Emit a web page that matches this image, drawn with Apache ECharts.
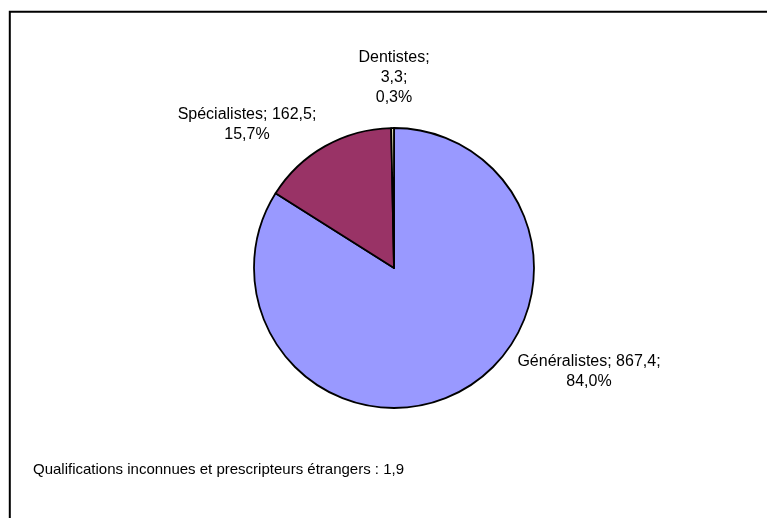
<!DOCTYPE html>
<html>
<head>
<meta charset="utf-8">
<script src="https://cdn.jsdelivr.net/npm/echarts@6/dist/echarts.min.js"></script>
<style>
html,body{margin:0;padding:0;background:#fff;}
#main{width:767px;height:518px;}
</style>
</head>
<body>
<div id="main"></div>
<script>
// Data
const categories = ['Généralistes', 'Spécialistes', 'Dentistes'];
const values = [867.4, 162.5, 3.3];
const sliceColors = ['#9999FF', '#993366', '#FFFFCC'];
const footnote = 'Qualifications inconnues et prescripteurs étrangers : 1,9';

// Label placement (layout only)
const labelBoxes = [
  { x: 589, y: 372, sep: [' ', '\n'] },
  { x: 247, y: 125, sep: [' ', '\n'] },
  { x: 394, y: 78, sep: ['\n', '\n'] }
];

const fr = v => String(v).replace('.', ',');

const chart = echarts.init(document.getElementById('main'), null, { renderer: 'canvas' });
chart.setOption({
  animation: false,
  backgroundColor: '#fff',
  textStyle: { fontFamily: 'Liberation Sans, Arial, sans-serif' },
  title: {
    text: footnote,
    left: 28,
    top: 457,
    textStyle: { fontSize: 15, fontWeight: 'normal', color: '#000', fontFamily: 'Liberation Sans, Arial, sans-serif' }
  },
  graphic: [{
    type: 'rect',
    shape: { x: 9.8, y: 11.8, width: 900, height: 700 },
    style: { fill: 'none', stroke: '#000', lineWidth: 2 },
    silent: true
  }],
  series: [{
    type: 'pie',
    center: [394, 268],
    radius: [0, 140],
    startAngle: 90,
    clockwise: true,
    percentPrecision: 1,
    data: categories.map((c, i) => ({ name: c, value: values[i], itemStyle: { color: sliceColors[i] } })),
    itemStyle: { borderColor: '#000', borderWidth: 1.8 },
    label: {
      show: true,
      position: 'outside',
      color: '#000',
      fontSize: 16,
      lineHeight: 20,
      align: 'center',
      fontFamily: 'Liberation Sans, Arial, sans-serif',
      formatter: p => {
        const s = labelBoxes[p.dataIndex].sep;
        return p.name + ';' + s[0] + fr(p.value) + ';' + s[1] + fr(p.percent.toFixed(1)) + '%';
      }
    },
    labelLine: { show: false },
    labelLayout: p => ({
      x: labelBoxes[p.dataIndex].x,
      y: labelBoxes[p.dataIndex].y,
      align: 'center',
      verticalAlign: 'middle'
    }),
    emphasis: { disabled: true }
  }]
});
</script>
</body>
</html>
